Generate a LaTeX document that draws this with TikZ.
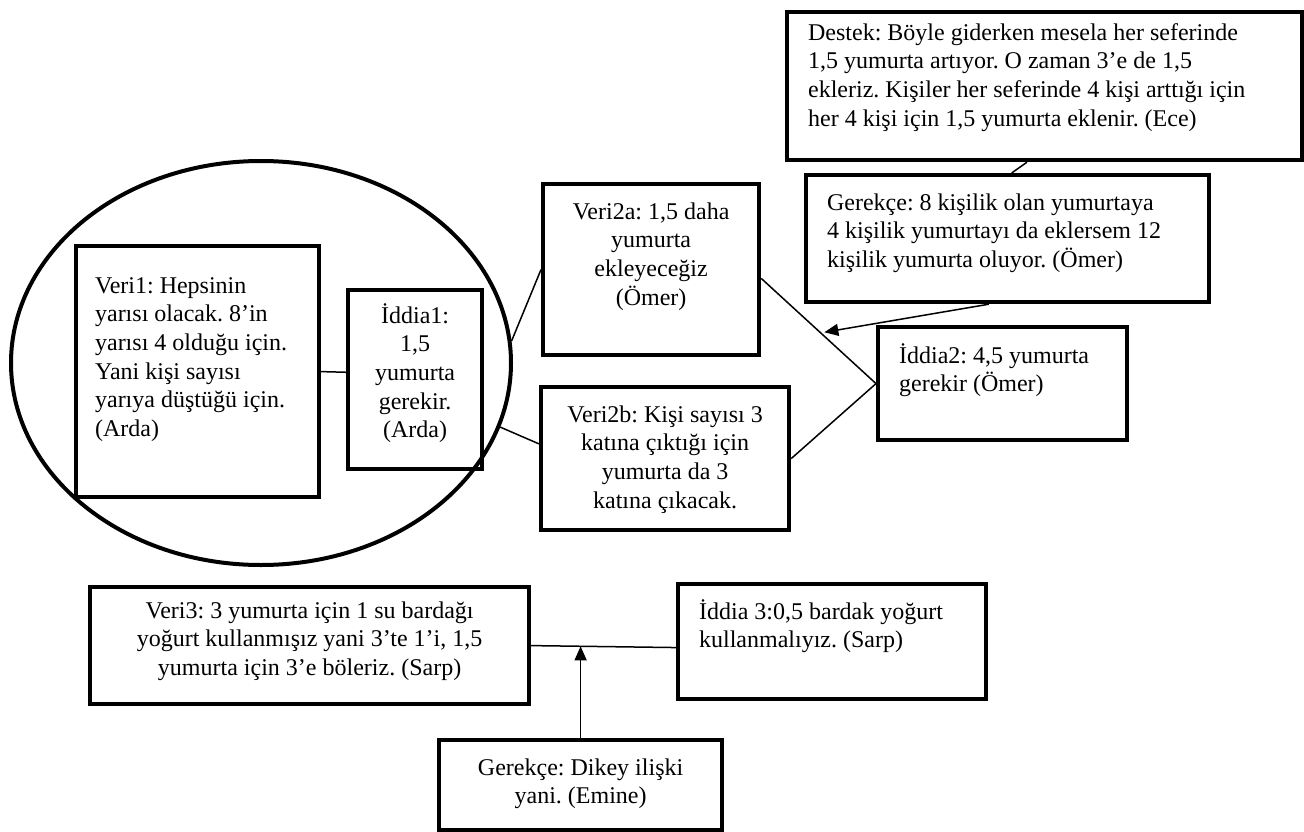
\documentclass[tikz,border=0pt]{standalone}
\usepackage{fontspec}
\setmainfont{Liberation Serif}
\usepackage{tikz}
\usetikzlibrary{shapes.geometric, arrows.meta, calc}
\frenchspacing

% top-aligned text block of fixed height and width
\newcommand{\argtxt}[3]{\parbox[t][#1pt][t]{#2pt}{\strut#3}}

\begin{document}
\begin{tikzpicture}[
  x=1pt, y=-1pt,
  font=\fontsize{24}{28.7}\selectfont,
  arg/.style={rectangle, draw=black, line width=4.2pt, anchor=north west, inner xsep=21pt, inner ysep=15pt},
  argc/.style={arg, inner xsep=10pt},
  grp/.style={ellipse, draw=black, line width=4pt, minimum width=500pt, minimum height=404pt, inner sep=0pt},
  con/.style={-, line width=1.5pt},
  arr/.style={-{Triangle[length=14pt,width=12pt]}, line width=1.5pt},
]
\useasboundingbox (0,0) rectangle (1304,832);
\node[grp] (grp) at (261,363) {};
\node[arg, inner xsep=19pt, inner ysep=27pt] (v1) at (74,244) {\argtxt{197}{205}{\raggedright Veri1: Hepsinin\\yarısı olacak. 8’in\\yarısı 4 olduğu için.\\Yani kişi sayısı\\yarıya düştüğü için.\\(Arda)}};
\node[argc, inner ysep=13pt] (i1) at (346,288) {\argtxt{153}{114}{\centering İddia1:\\1,5\\yumurta\\gerekir.\\(Arda)}};
\node[argc, inner ysep=15pt] (v2a) at (541,182) {\argtxt{141}{196}{\centering Veri2a: 1,5 daha\\yumurta\\ekleyeceğiz\\(Ömer)}};
\node[argc, inner ysep=15pt] (v2b) at (539,385) {\argtxt{113}{228}{\centering Veri2b: Kişi sayısı 3\\katına çıktığı için\\yumurta da 3\\katına çıkacak.}};
\node[arg, inner ysep=16pt] (i2) at (876,325) {\argtxt{81}{207}{\raggedright İddia2: 4,5 yumurta\\gerekir (Ömer)}};
\node[arg, inner ysep=8pt] (dest) at (785,10) {\argtxt{132}{473}{\raggedright Destek: Böyle giderken mesela her seferinde\\1,5 yumurta artıyor. O zaman 3’e de 1,5\\ekleriz. Kişiler her seferinde 4 kişi arttığı için\\her 4 kişi için 1,5 yumurta eklenir. (Ece)}};
\node[arg] (ger1) at (804,173) {\argtxt{97}{361}{\raggedright Gerekçe: 8 kişilik olan yumurtaya\\4 kişilik yumurtayı da eklersem 12\\kişilik yumurta oluyor. (Ömer)}};
\node[argc, inner ysep=11pt] (v3) at (88,585) {\argtxt{95}{419}{\centering Veri3: 3 yumurta için 1 su bardağı\\yoğurt kullanmışız yani 3’te 1’i, 1,5\\yumurta için 3’e böleriz. (Sarp)}};
\node[arg] (i3) at (676,582) {\argtxt{85}{266}{\raggedright İddia 3:0,5 bardak yoğurt\\kullanmalıyız. (Sarp)}};
\node[argc] (g2) at (437,738) {\argtxt{60}{263}{\centering Gerekçe: Dikey ilişki\\yani. (Emine)}};
% connectors
\draw[con] (v1.east) -- ($(i1.north west)!0.46!(i1.south west)$);
\draw[con] (grp.5) -- (v2a.west);
\draw[con] (grp.-15) -- ($(v2b.north west)!0.4!(v2b.south west)$);
\draw[con] ($(v2a.north east)!0.55!(v2a.south east)$) -- (i2.west) coordinate[pos=0.55] (m4);
\draw[con] (v2b.east) -- (i2.west);
\draw[con] ($(dest.south west)!0.466!(dest.south east)$) -- ($(ger1.north west)!0.51!(ger1.north east)$);
\draw[arr] ($(ger1.south west)!0.454!(ger1.south east)$) -- ([yshift=4pt]m4);
\draw[con] (v3.east) -- ($(i3.north west)!0.55!(i3.south west)$) coordinate[pos=0.35] (m8);
\draw[arr] (g2.north) -- (g2.north |- m8);
\end{tikzpicture}
\end{document}
